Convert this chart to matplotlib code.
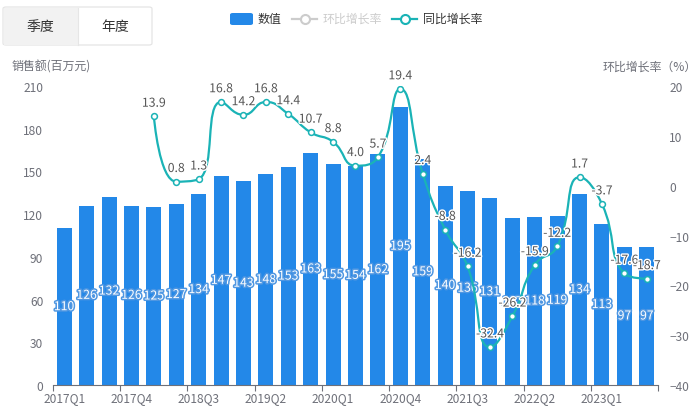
import matplotlib
matplotlib.use("Agg")
import matplotlib.pyplot as plt
import numpy as np
from matplotlib.path import Path
from matplotlib.patches import PathPatch, FancyBboxPatch, Rectangle
from matplotlib.lines import Line2D
import matplotlib.patheffects as pe

plt.rcParams['font.family'] = ['Noto Sans CJK SC', 'DejaVu Sans']

quarters = ['2017Q1', '2017Q2', '2017Q3', '2017Q4',
            '2018Q1', '2018Q2', '2018Q3', '2018Q4',
            '2019Q1', '2019Q2', '2019Q3', '2019Q4',
            '2020Q1', '2020Q2', '2020Q3', '2020Q4',
            '2021Q1', '2021Q2', '2021Q3', '2021Q4',
            '2022Q1', '2022Q2', '2022Q3', '2022Q4',
            '2023Q1', '2023Q2', '2023Q3']
sales = [110, 126, 132, 126, 125, 127, 134, 147, 143, 148, 153, 163, 155, 154,
         162, 195, 159, 140, 136, 131, 117, 118, 119, 134, 113, 97, 97]
yoy = [None, None, None, None, 13.9, 0.8, 1.3, 16.8, 14.2, 16.8, 14.4, 10.7,
       8.8, 4.0, 5.7, 19.4, 2.4, -8.8, -16.2, -32.4, -26.2, -15.9, -12.2,
       1.7, -3.7, -17.6, -18.7]
left_ticks = [0, 30, 60, 90, 120, 150, 180, 210]
right_ticks = [-40, -30, -20, -10, 0, 10, 20]

BAR = '#2388e8'
TEAL = '#1ab3b6'
AXC = '#6e7079'

W, H = 700, 414
fig = plt.figure(figsize=(W / 100, H / 100), dpi=100)

def fx(px):
    return px / W

def fy(py):
    return 1 - py / H

ax_l, ax_r, ax_t, ax_b = 53, 658, 87, 386
ax = fig.add_axes([fx(ax_l), fy(ax_b), (ax_r - ax_l) / W, (ax_b - ax_t) / H])
ax2 = ax.twinx()

n = len(quarters)
x = np.arange(n)
ax.bar(x, sales, width=0.67, color=BAR, zorder=2)
ax.set_xlim(-0.5, n - 0.5)
ax.set_ylim(0, 210)
ax.set_yticks(left_ticks)
ax2.set_ylim(-40, 20)
ax2.set_yticks(right_ticks)

for a in (ax, ax2):
    for s in ('top', 'left', 'right'):
        a.spines[s].set_visible(False)
ax2.spines['bottom'].set_visible(False)
ax.spines['bottom'].set_color(AXC)
ax.tick_params(axis='y', length=0, labelsize=8.6, labelcolor=AXC, pad=7)
ax2.tick_params(axis='y', length=0, labelsize=8.6, labelcolor=AXC, pad=8)

ax.set_xticks(x[::3])
ax.set_xticklabels(quarters[::3])
ax.set_xticks(np.arange(-0.5, n, 3), minor=True)
ax.tick_params(axis='x', which='major', length=0, labelsize=8.6, labelcolor=AXC, pad=4)
ax.tick_params(axis='x', which='minor', length=4, color=AXC, width=0.8)

# bar labels
for xi, v in zip(x, sales):
    ax.text(xi, v / 2, str(v), ha='center', va='center', color='white',
            fontsize=8.8, zorder=5,
            path_effects=[pe.withStroke(linewidth=2.2, foreground='#4f97e2')])

# smooth line (echarts-like bezier) in display space
ax2.set_zorder(ax.get_zorder() + 1)
ax2.patch.set_visible(False)
idx = [i for i, v in enumerate(yoy) if v is not None]
vals = [yoy[i] for i in idx]
pts = ax2.transData.transform(np.column_stack([idx, vals]))
smooth = 0.5
m = len(pts)
verts = [tuple(pts[0])]
codes = [Path.MOVETO]
cp0 = pts[0].copy()
for k in range(1, m):
    xk, yk = pts[k]
    px_, py_ = pts[k - 1]
    if k >= m - 1:
        cp1 = np.array([xk, yk])
        nxt_cp0 = None
    else:
        nx_, ny_ = pts[k + 1]
        vx, vy = nx_ - px_, ny_ - py_
        dx0, dy0 = xk - px_, yk - py_
        dx1, dy1 = nx_ - xk, ny_ - yk
        lp = np.hypot(dx0, dy0)
        ln = np.hypot(dx1, dy1)
        r = ln / (ln + lp)
        ncx = xk + vx * smooth * r
        ncy = yk + vy * smooth * r
        ncx = min(ncx, max(nx_, xk)); ncy = min(ncy, max(ny_, yk))
        ncx = max(ncx, min(nx_, xk)); ncy = max(ncy, min(ny_, yk))
        vx, vy = ncx - xk, ncy - yk
        c1x = xk - vx * lp / ln
        c1y = yk - vy * lp / ln
        c1x = min(c1x, max(px_, xk)); c1y = min(c1y, max(py_, yk))
        c1x = max(c1x, min(px_, xk)); c1y = max(c1y, min(py_, yk))
        vx, vy = xk - c1x, yk - c1y
        ncx = xk + vx * ln / lp
        ncy = yk + vy * ln / lp
        cp1 = np.array([c1x, c1y])
        nxt_cp0 = np.array([ncx, ncy])
    verts += [tuple(cp0), tuple(cp1), (xk, yk)]
    codes += [Path.CURVE4, Path.CURVE4, Path.CURVE4]
    cp0 = nxt_cp0 if nxt_cp0 is not None else np.array([xk, yk])
verts_data = ax2.transData.inverted().transform(np.array(verts))
ax2.add_patch(PathPatch(Path(verts_data, codes), facecolor='none',
                        edgecolor=TEAL, lw=1.6, zorder=3))
ax2.plot(idx, vals, linestyle='none', marker='o', ms=4.2, mfc='white',
         mec=TEAL, mew=1.1, zorder=4)
for i, v in zip(idx, vals):
    ax2.annotate(f'{v:.1f}', (i, v), xytext=(0, 9.5), textcoords='offset points',
                 ha='center', va='center', fontsize=8.8, color='#555555', zorder=6,
                 path_effects=[pe.withStroke(linewidth=2, foreground='white')])

# axis names
fig.text(fx(12), fy(67), '销售额(百万元)', fontsize=8.6, color=AXC, ha='left', va='center')
fig.text(fx(697), fy(67), '环比增长率（%）', fontsize=8.6, color=AXC, ha='right', va='center')

# buttons
fig.patches.append(FancyBboxPatch((fx(3), fy(46)), fx(149), 38 / H,
                                  boxstyle='round,pad=0,rounding_size=0.004',
                                  transform=fig.transFigure, facecolor='white',
                                  edgecolor='#e2e2e2', lw=0.8))
fig.patches.append(Rectangle((fx(3.5), fy(45.5)), fx(74.5), 37 / H,
                             transform=fig.transFigure, facecolor='#f2f2f2',
                             edgecolor='none'))
fig.add_artist(Line2D([fx(78), fx(78)], [fy(45.5), fy(8.5)], color='#e6e6e6', lw=0.8))
fig.text(fx(40), fy(27), '季度', fontsize=10, color='#333333', ha='center', va='center')
fig.text(fx(115), fy(27), '年度', fontsize=10, color='#333333', ha='center', va='center')

# legend
fig.patches.append(FancyBboxPatch((fx(230), fy(26)), fx(23), 12 / H,
                                  boxstyle='round,pad=0,rounding_size=0.004',
                                  transform=fig.transFigure, facecolor=BAR,
                                  edgecolor='none'))
fig.text(fx(258), fy(19.5), '数值', fontsize=8.6, color='#333333', ha='left', va='center')
for x0, col, label, tcol in [(292, '#cccccc', '环比增长率', '#cccccc'),
                             (392, TEAL, '同比增长率', '#333333')]:
    fig.add_artist(Line2D([fx(x0), fx(x0 + 25)], [fy(19.5), fy(19.5)], color=col, lw=1.6))
    fig.add_artist(Line2D([fx(x0 + 12.5)], [fy(19.5)], marker='o', ms=6.5,
                          mfc='white', mec=col, mew=1.5, linestyle='none'))
    fig.text(fx(x0 + 31), fy(19.5), label, fontsize=8.6, color=tcol, ha='left', va='center')

fig.savefig('out.png', dpi=100)
